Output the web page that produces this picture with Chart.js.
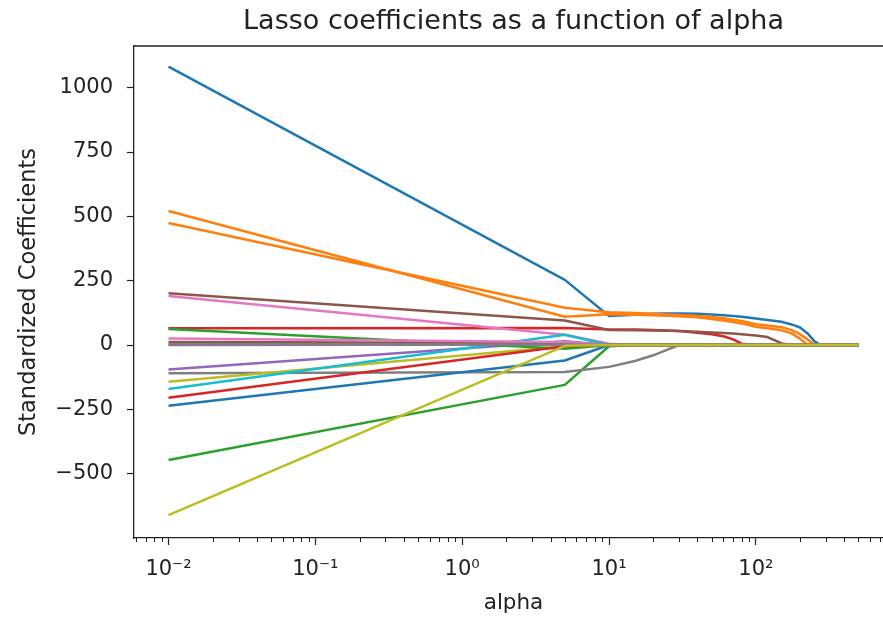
<!DOCTYPE html>
<html><head><meta charset="utf-8">
<script src="https://cdn.jsdelivr.net/npm/chart.js@4.4.0/dist/chart.umd.min.js"></script>
<style>html,body{margin:0;padding:0;background:#fff;overflow:hidden}#wrap{width:883px;height:618px;overflow:hidden}</style>
</head><body><div id="wrap"><canvas id="c" width="893" height="618"></canvas></div>
<script>
// alpha grid (x values)
const alphas = [0.01, 5, 10, 15, 20, 25, 30, 40, 50, 60, 70, 80, 100, 120, 150, 175, 200, 225, 250, 275, 300, 400, 500];
// coefficient paths, one per feature
const coef01 = [1082, 253, 113, 118, 121, 122, 122, 121, 119, 116, 113, 110, 103, 97, 90, 80, 68, 45, 15, 0, 0, 0, 0];
const coef02 = [521, 110, 120, 118, 116, 114, 112, 108, 101, 95, 89, 84, 71, 65, 57, 45, 25, 0, 0, 0, 0, 0, 0];
const coef03 = [-447, -155, -5, 0, 0, 0, 0, 0, 0, 0, 0, 0, 0, 0, 0, 0, 0, 0, 0, 0, 0, 0, 0];
const coef04 = [65, 66, 60, 60, 58, 56, 54, 48, 42, 34, 22, 5, 0, 0, 0, 0, 0, 0, 0, 0, 0, 0, 0];
const coef05 = [-95, 15, 0, 0, 0, 0, 0, 0, 0, 0, 0, 0, 0, 0, 0, 0, 0, 0, 0, 0, 0, 0, 0];
const coef06 = [201, 95, 58, 57, 56, 55, 54, 52, 49, 47, 45, 42, 37, 31, 6, 0, 0, 0, 0, 0, 0, 0, 0];
const coef07 = [190, 40, 5, 0, 0, 0, 0, 0, 0, 0, 0, 0, 0, 0, 0, 0, 0, 0, 0, 0, 0, 0, 0];
const coef08 = [-110, -105, -85, -62, -40, -18, 0, 0, 0, 0, 0, 0, 0, 0, 0, 0, 0, 0, 0, 0, 0, 0, 0];
const coef09 = [-143, -5, 0, 0, 0, 0, 0, 0, 0, 0, 0, 0, 0, 0, 0, 0, 0, 0, 0, 0, 0, 0, 0];
const coef10 = [-171, 40, 0, 0, 0, 0, 0, 0, 0, 0, 0, 0, 0, 0, 0, 0, 0, 0, 0, 0, 0, 0, 0];
const coef11 = [-236, -60, 0, 0, 0, 0, 0, 0, 0, 0, 0, 0, 0, 0, 0, 0, 0, 0, 0, 0, 0, 0, 0];
const coef12 = [474, 145, 127, 124, 121, 119, 117, 113, 109, 104, 98, 93, 81, 76, 69, 58, 42, 22, 0, 0, 0, 0, 0];
const coef13 = [62, -15, 0, 0, 0, 0, 0, 0, 0, 0, 0, 0, 0, 0, 0, 0, 0, 0, 0, 0, 0, 0, 0];
const coef14 = [-205, -5, 0, 0, 0, 0, 0, 0, 0, 0, 0, 0, 0, 0, 0, 0, 0, 0, 0, 0, 0, 0, 0];
const coef15 = [0, 2, 0, 0, 0, 0, 0, 0, 0, 0, 0, 0, 0, 0, 0, 0, 0, 0, 0, 0, 0, 0, 0];
const coef16 = [12, 8, 0, 0, 0, 0, 0, 0, 0, 0, 0, 0, 0, 0, 0, 0, 0, 0, 0, 0, 0, 0, 0];
const coef17 = [25, 12, 0, 0, 0, 0, 0, 0, 0, 0, 0, 0, 0, 0, 0, 0, 0, 0, 0, 0, 0, 0, 0];
const coef18 = [3, 2, 0, 0, 0, 0, 0, 0, 0, 0, 0, 0, 0, 0, 0, 0, 0, 0, 0, 0, 0, 0, 0];
const coef19 = [-661, -3, 0, 0, 0, 0, 0, 0, 0, 0, 0, 0, 0, 0, 0, 0, 0, 0, 0, 0, 0, 0, 0];

const xTickValues = [0.01, 0.1, 1, 10, 100];
const xTickLabels = ['10\u207B\u00B2', '10\u207B\u00B9', '10\u2070', '10\u00B9', '10\u00B2'];
const yTickValues = [-500, -250, 0, 250, 500, 750, 1000];

const allCoefs = [coef01, coef02, coef03, coef04, coef05, coef06, coef07, coef08, coef09, coef10,
                  coef11, coef12, coef13, coef14, coef15, coef16, coef17, coef18, coef19];
const palette = ['#1f77b4', '#ff7f0e', '#2ca02c', '#d62728', '#9467bd', '#8c564b', '#e377c2', '#7f7f7f', '#bcbd22', '#17becf'];

const TXT = '#222';
Chart.defaults.font.family = "'DejaVu Sans', sans-serif";
Chart.defaults.color = TXT;

const datasets = allCoefs.map((arr, i) => ({
  label: 'coef' + (i + 1),
  data: arr.map((v, k) => ({x: alphas[k], y: v})),
  borderColor: palette[i % 10],
  backgroundColor: palette[i % 10],
  borderWidth: 2.5,
  pointRadius: 0,
  tension: 0,
  fill: false,
  borderJoinStyle: 'round',
  order: -i
}));

const framePlugin = {
  id: 'frame',
  afterDraw(chart) {
    const {ctx, chartArea: a, scales: {x}} = chart;
    ctx.save();
    ctx.strokeStyle = TXT;
    ctx.lineWidth = 1.3;
    ctx.beginPath();
    ctx.moveTo(a.left, a.top);
    ctx.lineTo(a.right, a.top);
    ctx.lineTo(a.right, a.bottom);
    ctx.stroke();
    // minor ticks on log x axis
    ctx.lineWidth = 1;
    ctx.beginPath();
    for (let d = -3; d <= 2; d++) {
      for (let k = 2; k <= 9; k++) {
        const v = k * Math.pow(10, d);
        if (v < x.min || v > x.max) continue;
        const px = Math.round(x.getPixelForValue(v)) + 0.5;
        ctx.moveTo(px, a.bottom);
        ctx.lineTo(px, a.bottom + 4);
      }
    }
    ctx.stroke();
    ctx.restore();
  }
};

new Chart(document.getElementById('c'), {
  type: 'line',
  data: {datasets},
  plugins: [framePlugin],
  options: {
    responsive: false,
    animation: false,
    devicePixelRatio: 1,
    layout: {padding: {left: 0, right: 0, top: 0, bottom: 0}},
    plugins: {
      legend: {display: false},
      tooltip: {enabled: false},
      title: {
        display: true,
        fullSize: false,
        text: 'Lasso coefficients as a function of alpha',
        color: TXT,
        font: {size: 27, weight: 'normal'},
        padding: {top: 6, bottom: 7.6}
      }
    },
    scales: {
      x: {
        type: 'logarithmic',
        position: 'bottom',
        min: 0.005821,
        max: 859,
        bounds: 'data',
        afterBuildTicks: s => { s.ticks = xTickValues.map(v => ({value: v})); },
        afterFit: s => { s.height = 80; },
        grid: {display: true, drawOnChartArea: false, drawTicks: true, tickLength: 7, tickWidth: 1.2, tickColor: TXT},
        border: {display: true, color: TXT, width: 1.3},
        ticks: {
          autoSkip: false, maxRotation: 0, padding: 12, color: TXT,
          font: {size: 21},
          callback: (v) => { const i = xTickValues.indexOf(v); return i >= 0 ? xTickLabels[i] : ''; }
        },
        title: {display: true, text: 'alpha', color: TXT, font: {size: 21.5}, padding: {top: 0, bottom: 2}}
      },
      y: {
        type: 'linear',
        min: -750,
        max: 1162,
        bounds: 'data',
        afterBuildTicks: s => { s.ticks = yTickValues.map(v => ({value: v})); },
        afterFit: s => { s.width = 134; },
        grid: {display: true, drawOnChartArea: false, drawTicks: true, tickLength: 7, tickWidth: 1.2, tickColor: TXT},
        border: {display: true, color: TXT, width: 1.3},
        ticks: {
          autoSkip: false, padding: 14, color: TXT,
          font: {size: 21},
          callback: (v) => v < 0 ? '\u2212' + Math.abs(v) : String(v)
        },
        title: {display: true, text: 'Standardized Coefficients', color: TXT, font: {size: 22.5}, padding: {top: 15.5, bottom: 0}}
      }
    }
  }
});
</script>
</body></html>
